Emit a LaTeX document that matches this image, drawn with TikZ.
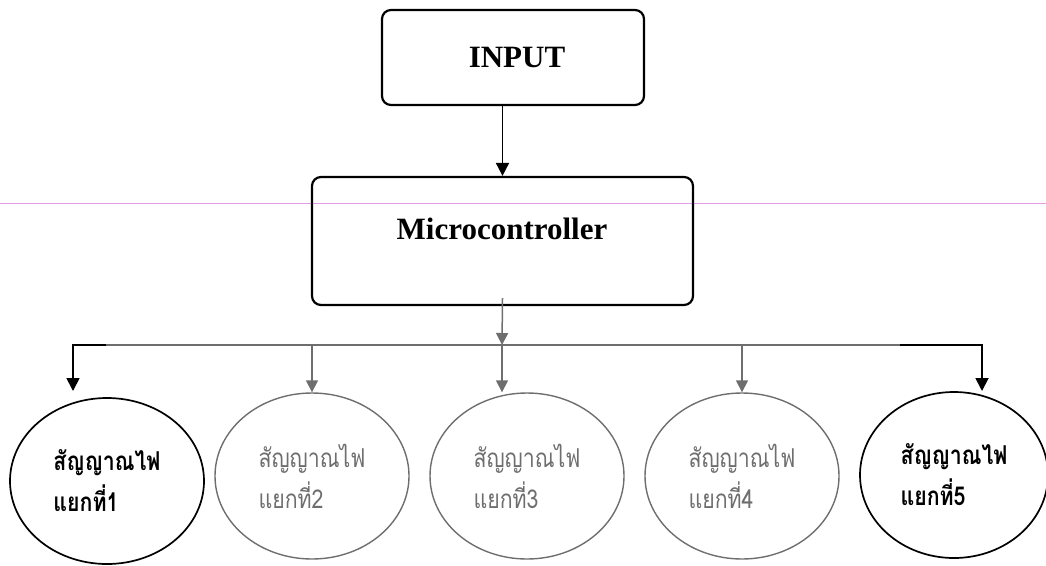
\documentclass[tikz,border=0pt]{standalone}
\usepackage{fontspec}
\setmainfont{Liberation Serif}
\newfontfamily\thaifont[Script=Thai,FakeStretch=0.82]{Loma}
\usetikzlibrary{arrows.meta,shapes.geometric}
\definecolor{branchgray}{HTML}{6E6E6E}
\definecolor{guidepink}{HTML}{E79BE6}

\begin{document}
\begin{tikzpicture}[
	 x              = 1pt,
	 y              = -1pt,
	 box/.style     = {draw, line width=2.2pt, rounded corners=9pt},
	 title/.style   = {font=\fontsize{31}{36}\selectfont\bfseries},
	 lamp/.style    = {ellipse, draw, line width=1.7pt, minimum width=194pt, minimum height=166pt,
	                   align=left, font=\thaifont\fontsize{26}{41}\selectfont},
	 dim/.style     = {draw=branchgray, text=branchgray, line width=1.4pt},
	 feed/.style    = {line width=1.8pt, -{Triangle[length=13pt, width=13pt]}},
	 branch/.style  = {branchgray, line width=1.5pt, -{Triangle[length=12pt, width=12pt]}}]
	  \useasboundingbox (0,0) rectangle (1046,565);
	  \draw [guidepink, line width=0.7pt] (0,203) -- (1046,203);
	  % controller chain
	  \node [box, title, minimum width=262pt, minimum height=95pt] (input) at (513,57.5) {\hspace{8pt}INPUT};
	  \node [box, minimum width=381pt, minimum height=128pt] (mcu) at (502.5,241) {};
	  \node [title] (mcutext) at (502,229) {Microcontroller};
	  \draw [feed] (mcu.north |- input.south) -- (mcu.north);
	  % five lamp outputs
	  \node [lamp, font=\thaifont\bfseries\fontsize{26}{41}\selectfont] (e1) at (107,481) {สัญญาณไฟ\\แยกที่1};
	  \node [lamp, dim] (e2) at (312,476) {สัญญาณไฟ\\แยกที่2};
	  \node [lamp, dim] (e3) at (527,476) {สัญญาณไฟ\\แยกที่3};
	  \node [lamp, dim] (e4) at (742,476) {สัญญาณไฟ\\แยกที่4};
	  \node [lamp, minimum width=188pt, font=\thaifont\bfseries\fontsize{26}{41}\selectfont] (e5) at (954,475) {สัญญาณไฟ\\แยกที่5};
	  \coordinate (split) at (502,345);
	  \coordinate (tip1) at (73,391);
	  \coordinate (tip5) at (982,391);
	  \draw [branch] ([yshift=8pt]mcu.south) -- (split);
	  \draw [branchgray, line width=1.5pt] (106,345) -- (900,345);
	  \draw [feed] (106,345) -| (tip1);
	  \draw [feed] (900,345) -| (tip5);
	  \draw [branch] (split -| e2) -- (e2);
	  \draw [branch] (split) -- (split |- e3.north);
	  \draw [branch] (split -| e4) -- (e4);
	\end{tikzpicture}
\end{document}
